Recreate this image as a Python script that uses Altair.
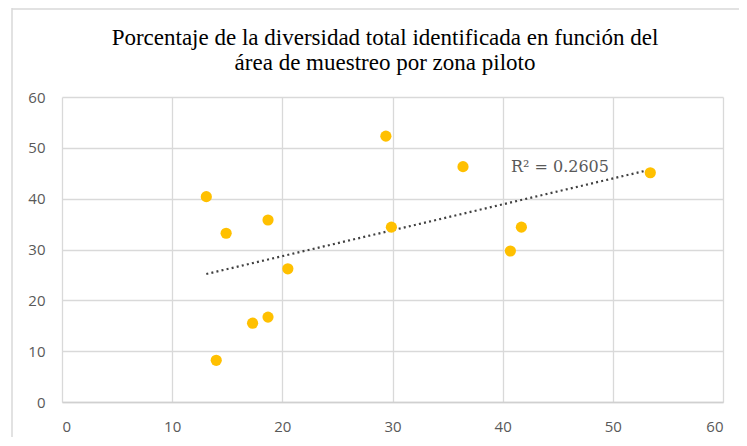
import altair as alt
import pandas as pd

# Data
area = [13.1, 14.9, 14.0, 17.3, 18.7, 18.7, 20.5, 29.4, 29.9, 36.4, 40.7, 41.7, 53.4]
diversidad = [40.4, 33.2, 8.2, 15.5, 16.7, 35.8, 26.2, 52.3, 34.4, 46.3, 29.7, 34.4, 45.1]
r2_label = ["R² = 0.2605"]
r2_pos_x = [45.2]
r2_pos_y = [46.3]
title_lines = "Porcentaje de la diversidad total identificada en función del\nárea de muestreo por zona piloto"

df = pd.DataFrame({"area": area, "div": diversidad})
ann = pd.DataFrame({"x": r2_pos_x, "y": r2_pos_y, "t": r2_label})

xs = alt.Scale(domain=[0, 60], nice=False)
ys = alt.Scale(domain=[0, 60], nice=False)

xaxis = alt.Axis(values=[0, 10, 20, 30, 40, 50, 60], title=None, ticks=False,
                 labelPadding=17, grid=True, domainColor="#d0d0d0", domainWidth=1.5)
yaxis = alt.Axis(values=[0, 10, 20, 30, 40, 50, 60], title=None, ticks=False,
                 labelPadding=17, grid=True, domain=False)

base = alt.Chart(df)

pts = base.mark_circle(size=125, color="#FFC000", opacity=1).encode(
    x=alt.X("area:Q", scale=xs, axis=xaxis),
    y=alt.Y("div:Q", scale=ys, axis=yaxis),
)

trend = base.transform_regression("area", "div").mark_line(
    color="#404040", strokeWidth=2.2, strokeDash=[2, 3.2]
).encode(x=alt.X("area:Q", scale=xs), y=alt.Y("div:Q", scale=ys))

txt = alt.Chart(ann).mark_text(font="DejaVu Serif", fontSize=16, color="#595959").encode(
    x=alt.X("x:Q", scale=xs), y=alt.Y("y:Q", scale=ys), text="t:N"
)

title_txt = alt.Chart(ann).mark_text(
    font="Liberation Serif", fontSize=23, color="#000000", lineBreak="\n",
    lineHeight=25, baseline="middle", align="center",
).encode(x=alt.value(323), y=alt.value(-59), text=alt.value(title_lines))

left_border = alt.Chart(ann).mark_rule(color="#d9d9d9", strokeWidth=1.5).encode(
    x=alt.value(-50), y=alt.value(-89), y2=alt.value(340)
)
top_border = alt.Chart(ann).mark_rule(color="#d9d9d9", strokeWidth=1.5).encode(
    x=alt.value(-50), x2=alt.value(700), y=alt.value(-88)
)

chart = alt.layer(left_border, top_border, trend, pts, txt, title_txt).properties(
    width=661,
    height=305,
    autosize=alt.AutoSizeParams(type="none"),
    padding={"left": 54, "top": 89, "right": 16, "bottom": 40},
).configure_axis(
    gridColor="#d9d9d9", gridWidth=1.3, labelColor="#595959",
    labelFont="Open Sans", labelFontSize=15,
).configure_view(stroke=None)

chart.save("out.html", embed_options={"renderer": "svg", "actions": False})
